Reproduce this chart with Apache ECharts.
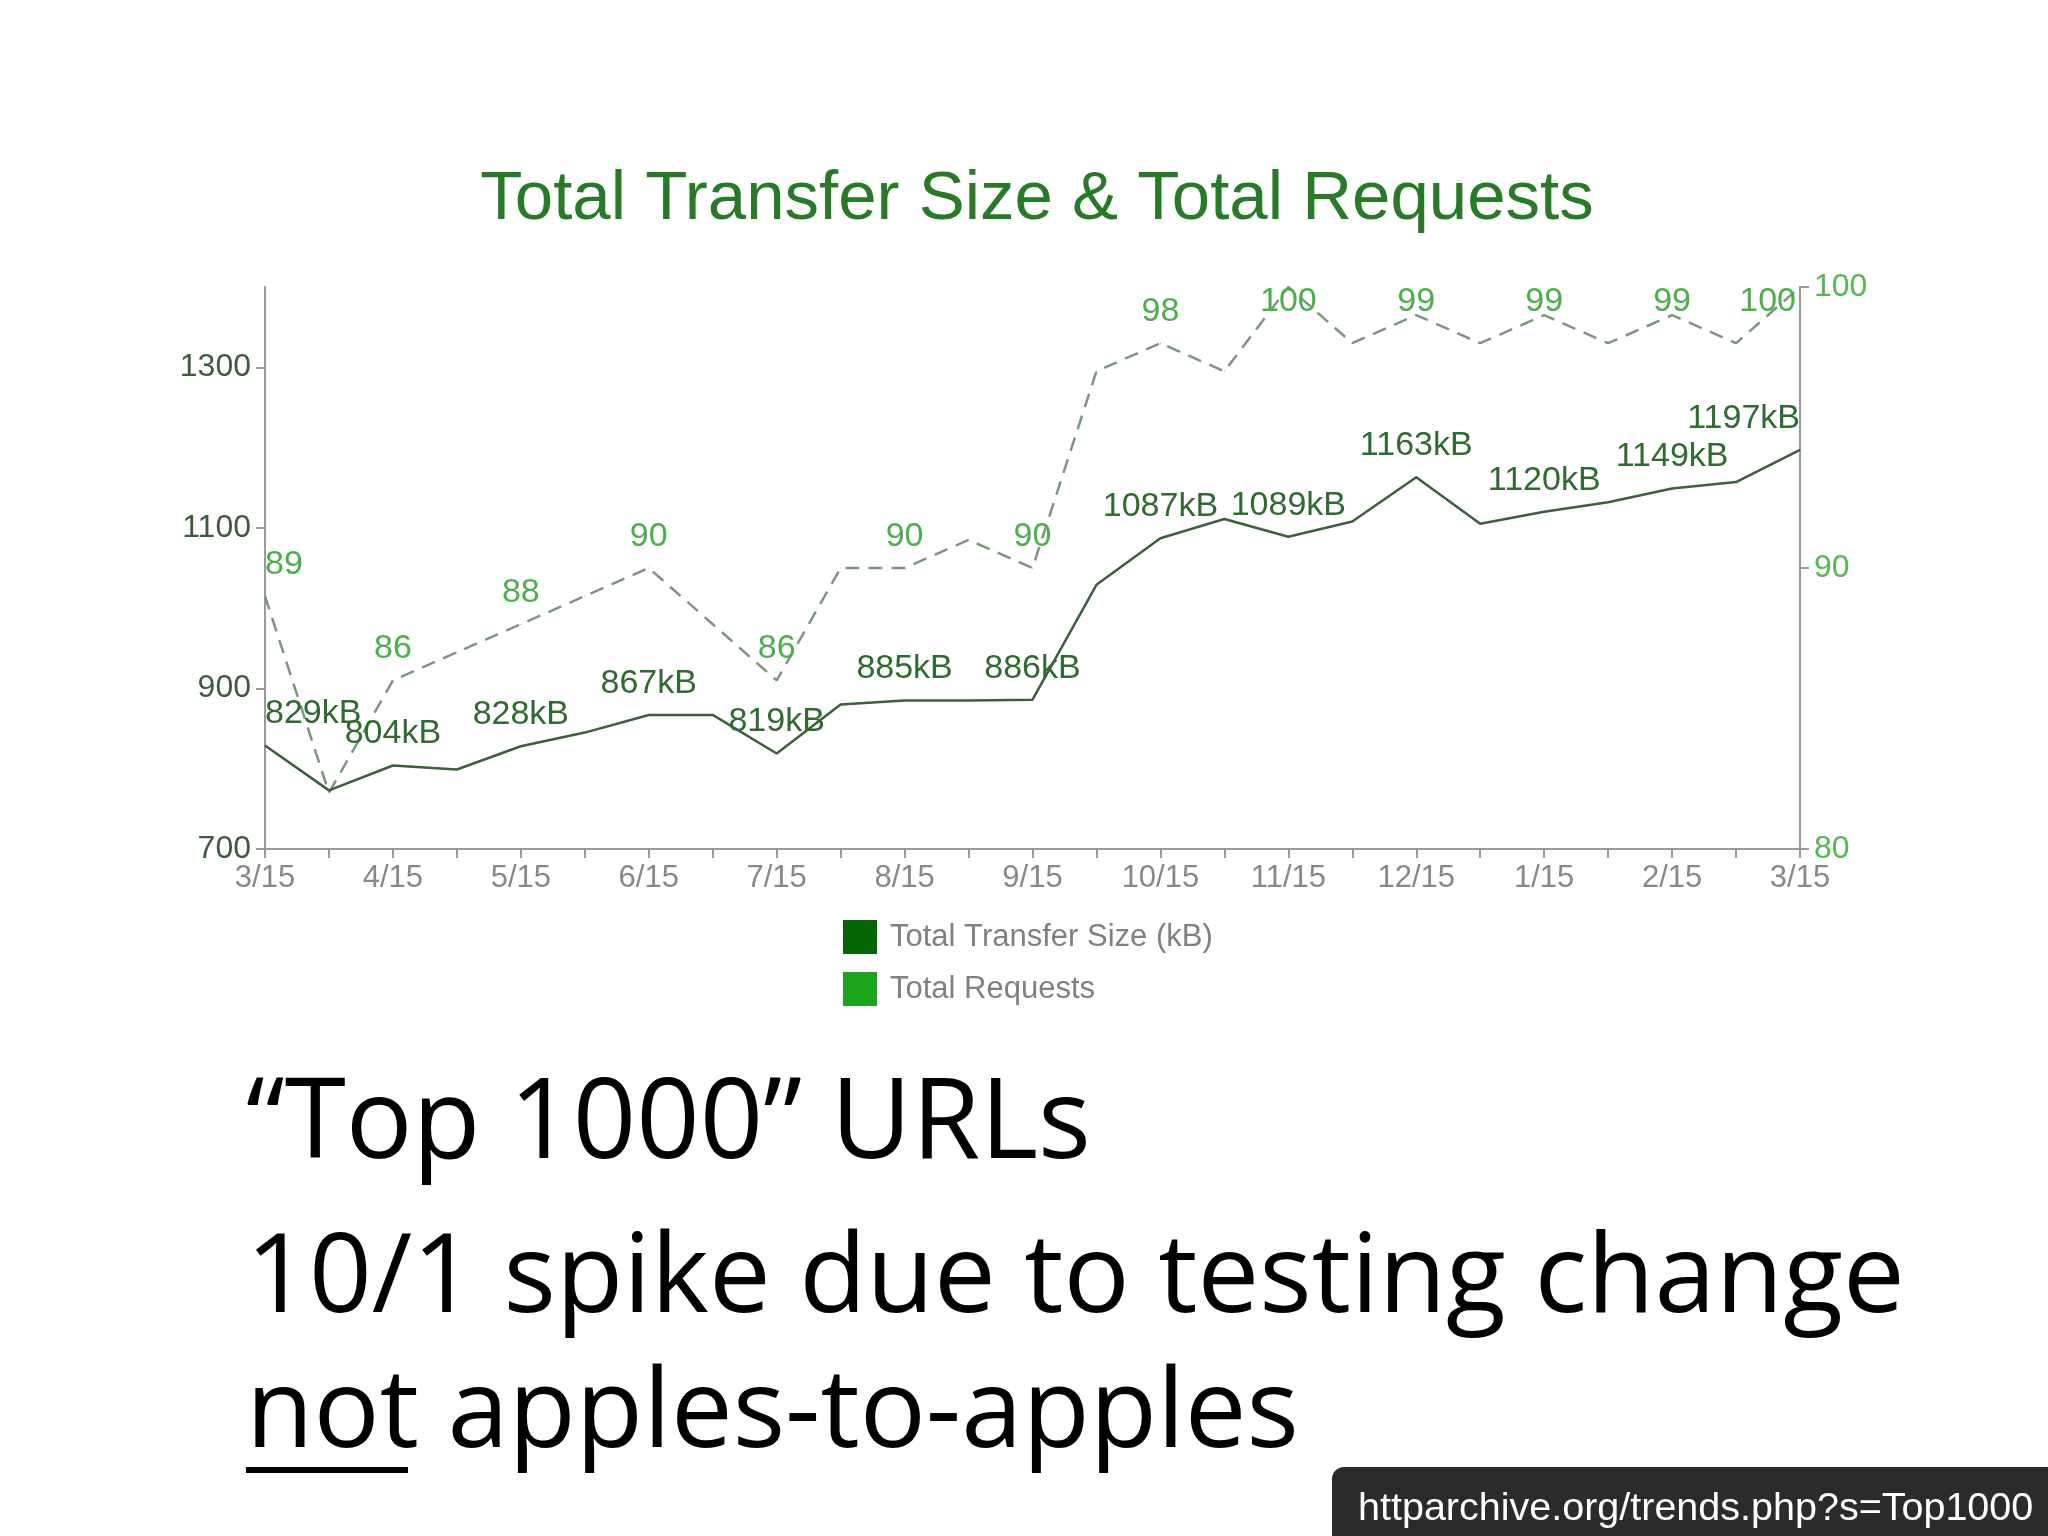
<!DOCTYPE html>
<html>
<head>
<meta charset="utf-8">
<title>Total Transfer Size & Total Requests</title>
<script src="https://cdn.jsdelivr.net/npm/echarts@6/dist/echarts.min.js"></script>
<style>
  html, body { margin: 0; padding: 0; background: #fff; }
  #main { width: 2048px; height: 1536px; }
</style>
</head>
<body>
<div id="main"></div>
<script>
// semi-monthly crawl dates
var dates = ['3/15', '4/1', '4/15', '5/1', '5/15', '6/1', '6/15', '7/1', '7/15', '8/1', '8/15', '9/1', '9/15',
  '10/1', '10/15', '11/1', '11/15', '12/1', '12/15', '1/1', '1/15', '2/1', '2/15', '3/1', '3/15'];
// Total Transfer Size (kB)
var transferSize = [829, 773, 804, 799, 828, 845, 867, 867, 819, 880, 885, 885, 886,
  1029, 1087, 1111, 1089, 1108, 1163, 1105, 1120, 1132, 1149, 1157, 1197];
// Total Requests
var totalRequests = [89, 82, 86, 87, 88, 89, 90, 88, 86, 90, 90, 91, 90,
  97, 98, 97, 100, 98, 99, 98, 99, 98, 99, 98, 100];
var sizeTicks = [700, 900, 1100, 1300];
var reqTicks = [80, 90, 100];

var GRID_TOP = 287;
var chart = echarts.init(document.getElementById('main'));

// only every other point gets a label, first one hangs right, last one hangs left
function buildData(values) {
  return values.map(function (v, i) {
    var item = { value: v };
    if (i % 2) {
      item.label = { show: false };
    } else if (i === 0) {
      item.label = { align: 'left', offset: [6, 0] };
    } else if (i === values.length - 1) {
      item.label = { align: 'right', offset: [-4, 0] };
    }
    return item;
  });
}

// labels are kept inside the plot area at the top
function keepInside(params) {
  var r = params.labelRect;
  if (r.y < GRID_TOP - 2) {
    return { x: r.x + r.width / 2, y: GRID_TOP - 2, align: 'center', verticalAlign: 'top' };
  }
}

var option = {
  backgroundColor: '#fff',
  animation: false,
  textStyle: { fontFamily: 'Liberation Sans' },
  title: {
    text: 'Total Transfer Size & Total Requests',
    left: 1032,
    textAlign: 'center',
    top: 160,
    textStyle: { color: '#287a28', fontSize: 69, fontWeight: 'normal', fontFamily: 'Liberation Sans' }
  },
  legend: {
    orient: 'vertical',
    left: 838,
    top: 915,
    icon: 'rect',
    itemWidth: 34,
    itemHeight: 34,
    itemGap: 18,
    textStyle: { color: '#808080', fontSize: 31, padding: [0, 0, 0, 8] },
    data: [
      { name: 'Total Transfer Size (kB)', itemStyle: { color: '#056605' } },
      { name: 'Total Requests', itemStyle: { color: '#1ca51c' } }
    ]
  },
  grid: { left: 265, right: 248, top: GRID_TOP, bottom: 687 },
  xAxis: {
    type: 'category',
    data: dates,
    boundaryGap: false,
    axisLine: { lineStyle: { color: '#9a9a9a', width: 2 } },
    axisTick: { interval: 0, length: 9, lineStyle: { color: '#9a9a9a', width: 2 } },
    axisLabel: { interval: 1, color: '#888', fontSize: 31, margin: 14 }
  },
  yAxis: [{
    type: 'value',
    min: 700,
    max: 1400,
    interval: 100,
    splitLine: { show: false },
    axisLine: { show: true, lineStyle: { color: '#9a9a9a', width: 2 } },
    axisTick: { show: true, length: 9, customValues: sizeTicks, lineStyle: { color: '#9a9a9a', width: 2 } },
    axisLabel: {
      customValues: sizeTicks,
      formatter: function (v) { return String(v); },
      color: '#3f5a3f',
      fontSize: 32,
      margin: 14
    }
  }, {
    type: 'value',
    min: 80,
    max: 100,
    interval: 10,
    splitLine: { show: false },
    axisLine: { show: true, lineStyle: { color: '#9a9a9a', width: 2 } },
    axisTick: { show: true, length: 9, customValues: reqTicks, lineStyle: { color: '#9a9a9a', width: 2 } },
    axisLabel: { customValues: reqTicks, color: '#55b855', fontSize: 32, margin: 14 }
  }],
  series: [{
    name: 'Total Transfer Size (kB)',
    type: 'line',
    yAxisIndex: 0,
    data: buildData(transferSize),
    symbol: 'circle',
    symbolSize: 1,
    itemStyle: { color: '#3e5e3e' },
    lineStyle: { color: '#3e5e3e', width: 2.5 },
    label: {
      show: true,
      position: 'top',
      distance: 14,
      formatter: '{c}kB',
      color: '#2f6a2f',
      fontSize: 34
    },
    labelLayout: keepInside,
    z: 3
  }, {
    name: 'Total Requests',
    type: 'line',
    yAxisIndex: 1,
    data: buildData(totalRequests),
    symbol: 'circle',
    symbolSize: 1,
    itemStyle: { color: '#7d967d' },
    lineStyle: { color: '#7d967d', width: 2.5, type: [14, 9] },
    label: {
      show: true,
      position: 'top',
      distance: 14,
      formatter: '{c}',
      color: '#4caf4c',
      fontSize: 34
    },
    labelLayout: keepInside,
    z: 2
  }],
  graphic: [
    {
      type: 'text', left: 246, top: 1071,
      style: { text: '\u201cTop 1000\u201d URLs', fill: '#000', font: '111px "Open Sans"' }
    },
    {
      type: 'text', left: 246, top: 1226,
      style: { text: '10/1 spike due to testing change', fill: '#000', font: '110px "Open Sans"' }
    },
    {
      type: 'text', left: 246, top: 1361,
      style: { text: 'not apples-to-apples', fill: '#000', font: '110px "Open Sans"' }
    },
    {
      type: 'rect', left: 246, top: 1467,
      shape: { width: 162, height: 6 },
      style: { fill: '#000' }
    },
    {
      type: 'rect', left: 1332, top: 1467,
      shape: { width: 716, height: 69, r: [12, 0, 0, 0] },
      style: { fill: '#2b2a2c' }
    },
    {
      type: 'text', left: 1358, top: 1489,
      style: { text: 'httparchive.org/trends.php?s=Top1000', fill: '#fff', font: '39.5px "Liberation Sans"' }
    }
  ]
};
chart.setOption(option);
</script>
</body>
</html>
